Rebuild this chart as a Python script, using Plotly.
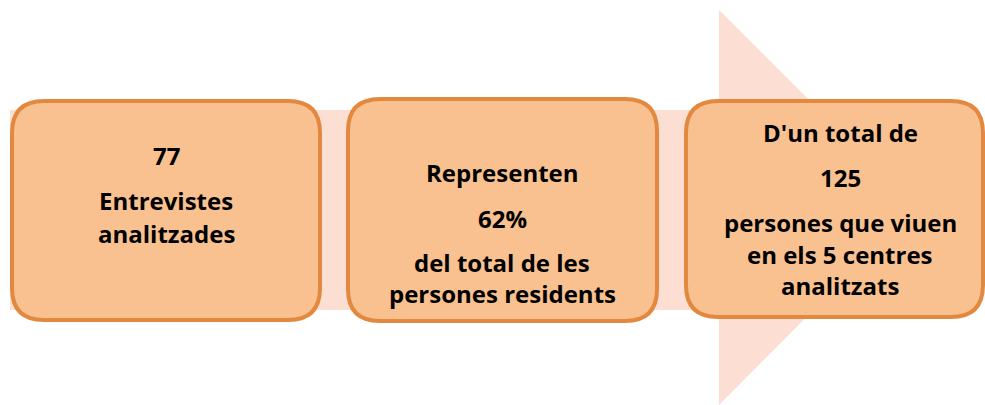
import plotly.graph_objects as go

# Text content of the three boxes (line by line)
box1_lines = ["77", "Entrevistes", "analitzades"]
box2_lines = ["Representen", "62%", "del total de les", "persones residents"]
box3_lines = ["D'un total de", "125", "persones que viuen", "en els 5 centres", "analitzats"]

W, H = 985, 405

fig = go.Figure()

def rrect(x0, y0, x1, y1, r):
    return (f"M {x0+r},{y0} L {x1-r},{y0} Q {x1},{y0} {x1},{y0+r} "
            f"L {x1},{y1-r} Q {x1},{y1} {x1-r},{y1} L {x0+r},{y1} "
            f"Q {x0},{y1} {x0},{y1-r} L {x0},{y0+r} Q {x0},{y0} {x0+r},{y0} Z")

shapes = []
# background arrow
arrow = "M 10,110 L 719,110 L 719,10 L 916,207 L 719,405 L 719,310 L 10,310 Z"
shapes.append(dict(type="path", path=arrow, xref="x", yref="y",
                   fillcolor="#FCDED2", line=dict(width=0), layer="below"))

boxes = [(12, 101, 320, 320), (348, 99, 657, 321), (686, 101, 983, 317)]
for (x0, y0, x1, y1) in boxes:
    shapes.append(dict(type="path", path=rrect(x0, y0, x1, y1, 32), xref="x", yref="y",
                       fillcolor="#F9C190", line=dict(color="#E2893F", width=4)))

centers = [166, 502, 840]
ys = [[155, 200, 233], [172, 218, 262, 293], [132, 177, 222, 254, 285]]
for cx, lines, yl in zip(centers, [box1_lines, box2_lines, box3_lines], ys):
    for t, y in zip(lines, yl):
        fig.add_annotation(x=cx, y=y, text=f"<b>{t}</b>", showarrow=False,
                           xref="x", yref="y",
                           font=dict(family="Open Sans, sans-serif", size=24, color="#000000"))

fig.update_layout(shapes=shapes, width=W, height=H,
                  margin=dict(l=0, r=0, t=0, b=0),
                  paper_bgcolor="white", plot_bgcolor="white",
                  xaxis=dict(range=[0, W], visible=False, fixedrange=True),
                  yaxis=dict(range=[H, 0], visible=False, fixedrange=True),
                  showlegend=False)
fig.write_html("out.html", config={"displayModeBar": False},
               post_script="document.body.style.margin='0';document.body.style.overflow='hidden';")
